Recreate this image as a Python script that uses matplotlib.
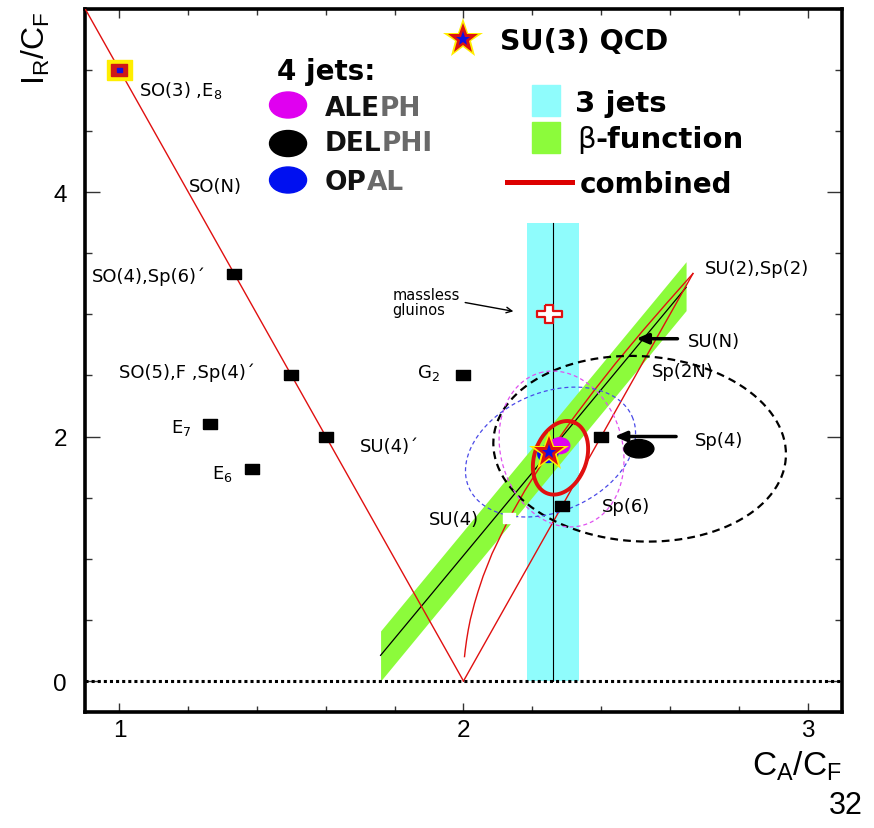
import numpy as np
import matplotlib.pyplot as plt
from matplotlib.patches import Ellipse, Rectangle
from matplotlib.ticker import MultipleLocator

plt.rcParams['font.family'] = 'DejaVu Sans'

# ---- data ----
# SO(N) line and Sp(2N) line
so_line_x = [0.9, 2.0]
so_line_y = [5.5, 0.0]
sp_line_x = [2.0, 2.667]
sp_line_y = [0.0, 3.333]

# SU(N) curve, N = 2 ... 25
su_curve_x = [2.667, 2.587, 2.521, 2.442, 2.381, 2.318, 2.250, 2.178, 2.133,
              2.083, 2.057, 2.042, 2.032, 2.020, 2.014, 2.009, 2.005, 2.003]
su_curve_y = [3.333, 3.079, 2.865, 2.598, 2.381, 2.146, 1.875, 1.556, 1.333,
              1.042, 0.857, 0.729, 0.635, 0.505, 0.420, 0.335, 0.251, 0.200]

# black squares (gauge groups)
group_x = [1.333, 1.5, 1.6, 1.263, 1.385, 2.0, 2.4, 2.286]
group_y = [3.333, 2.5, 2.0, 2.105, 1.731, 2.5, 2.0, 1.429]
so3_x, so3_y = 1.0, 5.0
su4_x, su4_y = 2.133, 1.333
su3_x, su3_y = 2.25, 1.875
gluino_x, gluino_y = 2.25, 3.0

# 3 jets band
jets3_center = 2.26
jets3_range = [2.184, 2.335]
jets3_top = 3.75

# beta-function band
beta_x = [1.759, 2.647]
beta_mid = [0.21, 3.22]
beta_lo = [0.0, 3.03]
beta_hi = [0.41, 3.43]

# 4 jets results: centre, size of blob
aleph_pt = [2.280, 1.925, 0.058, 0.13]
delphi_pt = [2.510, 1.900, 0.087, 0.15]
opal_pt = [2.245, 1.857, 0.058, 0.139]

# contours: centre x, centre y, semi-axes (ux, uy, vx, vy)
aleph_cont = [2.285, 1.898, -0.0637, 0.6225, 0.170, 0.1374]
delphi_cont = [2.512, 1.900, 0.425, -0.073, -0.016, -0.756]
opal_cont = [2.253, 1.873, 0.2375, 0.2888, 0.0686, -0.4458]
combined_cont = [2.282, 1.826, 0.0378, 0.292, 0.0709, -0.0728]

CYAN = '#8ffcfc'
GREEN = '#8cfb3b'
RED = '#e01010'


def contour(p):
    t = np.linspace(0, 2 * np.pi, 240)
    cx, cy, ux, uy, vx, vy = p
    return cx + ux * np.cos(t) + vx * np.sin(t), cy + uy * np.cos(t) + vy * np.sin(t)


rect = [(-1.3, -1), (1.3, -1), (1.3, 1), (-1.3, 1), (-1.3, -1)]
a, s = 0.3, 1.45
cross = [(-a * s, 1), (a * s, 1), (a * s, a), (s, a), (s, -a), (a * s, -a), (a * s, -1),
         (-a * s, -1), (-a * s, -a), (-s, -a), (-s, a), (-a * s, a), (-a * s, 1)]

fig = plt.figure(figsize=(8.74, 8.29), dpi=100)
ax = fig.add_axes([0.0973, 0.1404, 0.866, 0.848])
ax.set_xlim(0.9, 3.1)
ax.set_ylim(-0.25, 5.5)

# bands
ax.fill_between(jets3_range, 0, jets3_top, color=CYAN, lw=0, zorder=1)
ax.fill_between(beta_x, beta_lo, beta_hi, color=GREEN, lw=0, zorder=2)
ax.plot([jets3_center, jets3_center], [0, jets3_top], color='k', lw=0.8, zorder=3)
ax.plot(beta_x, beta_mid, color='k', lw=0.9, zorder=3)

# group lines
ax.plot(so_line_x, so_line_y, color=RED, lw=1.0, zorder=4)
ax.plot(sp_line_x, sp_line_y, color=RED, lw=1.0, zorder=4)
ax.plot(su_curve_x, su_curve_y, color=RED, lw=1.0, zorder=4)

ax.axhline(0, color='k', lw=2.2, ls=(0, (1, 1)), zorder=5)

# contours
ax.plot(*contour(delphi_cont), color='k', lw=1.6, ls=(0, (3.5, 2.3)), zorder=6)
ax.plot(*contour(aleph_cont), color='#e050f0', lw=0.9, ls=(0, (3.2, 2.4)), zorder=6)
ax.plot(*contour(opal_cont), color='#4a4ae8', lw=0.9, ls=(0, (3.2, 2.4)), zorder=6)
ax.plot(*contour(combined_cont), color=RED, lw=2.8, zorder=7)

# measurement blobs
for p, c in [(aleph_pt, '#e000f0'), (opal_pt, '#0010f0'), (delphi_pt, 'k')]:
    ax.add_patch(Ellipse((p[0], p[1]), p[2], p[3], color=c, zorder=8))

# group points
ax.plot(group_x, group_y, ls='none', marker=rect, ms=9.4, color='k', zorder=9)
ax.plot(su4_x, su4_y, ls='none', marker=rect, ms=9, color='white', zorder=9)
ax.plot(so3_x, so3_y, marker=rect, ms=18, color='#ffee00', zorder=9)
ax.plot(so3_x, so3_y, marker=rect, ms=11.5, color='#d01818', zorder=9)
ax.plot(so3_x, so3_y, marker=rect, ms=3.6, color='#1010e0', zorder=9)
ax.plot(gluino_x, gluino_y, marker=cross, ms=18, mfc='white', mec=RED, mew=1.6, zorder=9)
for ms, c in [(30, '#ffee00'), (23, '#dd1111'), (11, '#1010e0')]:
    ax.plot(su3_x, su3_y, marker='*', ms=ms, color=c, mew=0, zorder=10)

# labels
lab = dict(fontsize=13, ha='left', va='baseline', zorder=3)
ax.text(1.058, 4.79, 'SO(3) ,E$\\mathregular{_8}$', **lab)
ax.text(1.203, 4.01, 'SO(N)', **lab)
ax.text(0.919, 3.274, 'SO(4),Sp(6)´', **lab)
ax.text(1.0, 2.49, 'SO(5),F ,Sp(4)´', **lab)
ax.text(1.151, 2.04, 'E$\\mathregular{_7}$', **lab)
ax.text(1.27, 1.663, 'E$\\mathregular{_6}$', **lab)
ax.text(1.698, 1.884, 'SU(4)´', **lab)
ax.text(1.866, 2.489, 'G$\\mathregular{_2}$', **lab)
ax.text(2.701, 3.335, 'SU(2),Sp(2)', **lab)
ax.text(2.651, 2.742, 'SU(N)', **lab)
ax.text(2.549, 2.493, 'Sp(2N)', **lab)
ax.text(2.672, 1.929, 'Sp(4)', **lab)
ax.text(2.401, 1.389, 'Sp(6)', **lab)
ax.text(1.898, 1.282, 'SU(4)', **lab)
ax.text(1.794, 3.10, 'massless\ngluinos', fontsize=10.5, ha='left', va='center',
        linespacing=1.0)

ax.annotate('', xy=(2.153, 3.02), xytext=(1.997, 3.10),
            arrowprops=dict(arrowstyle='->', color='k', lw=1.0))
for y0, x0, x1 in [(2.80, 2.622, 2.502), (2.0, 2.618, 2.439)]:
    ax.annotate('', xy=(x1, y0), xytext=(x0, y0), zorder=9,
                arrowprops=dict(arrowstyle='-|>,head_length=0.7,head_width=0.3',
                                color='k', lw=2.5, shrinkA=0, shrinkB=0))

# legend block (axes fraction)
T = ax.transAxes
bold = dict(fontweight='bold', transform=T, ha='left', va='center')
for ms, c in [(30, '#ffee00'), (23, '#dd1111'), (11, '#1010e0')]:
    ax.plot(0.4997, 0.9568, marker='*', ms=ms, color=c, mew=0, transform=T, clip_on=False)
ax.text(0.548, 0.954, 'SU(3) QCD', fontsize=20.5, **bold)
ax.text(0.2536, 0.9112, '4 jets:', fontsize=20, **bold)

for y, c in [(0.8629, '#e000f0'), (0.8081, 'k'), (0.7562, '#0010f0')]:
    ax.add_patch(Ellipse((0.2682, y), 0.0489, 0.037, color=c, transform=T))
for y, s1, s2 in [(0.8586, 'ALE', 'PH'), (0.8088, 'DEL', 'PHI'), (0.7533, 'OP', 'AL')]:
    t1 = ax.text(0.317, y, s1, fontsize=19, color='#111111', **bold)
    ax.annotate(s2, xy=(1, 0), xycoords=t1, ha='left', va='bottom', fontsize=19,
                fontweight='bold', color='#6a6a6a')

ax.add_patch(Rectangle((0.590, 0.8477), 0.0374, 0.0436, color=CYAN, transform=T))
ax.add_patch(Rectangle((0.590, 0.7946), 0.0374, 0.0445, color=GREEN, transform=T))
ax.plot([0.557, 0.643], [0.7538, 0.7538], color='#dd0000', lw=3.6, transform=T)
ax.text(0.6473, 0.8658, '3 jets', fontsize=21, **bold)
tb = ax.text(0.650, 0.8145, 'β', fontsize=21, transform=T, ha='left', va='center')
ax.annotate('-function', xy=(1, 0), xycoords=tb, ha='left', va='bottom', fontsize=21,
            fontweight='bold')
ax.text(0.654, 0.7505, 'combined', fontsize=20, **bold)

# axes style
ax.set_xticks([1, 2, 3])
ax.set_yticks([0, 2, 4])
ax.xaxis.set_minor_locator(MultipleLocator(0.2))
ax.yaxis.set_minor_locator(MultipleLocator(0.5))
ax.tick_params(which='both', direction='in', top=True, right=True, width=1,
               color='#333333', labelsize=17.5, labelfontfamily='Liberation Sans')
ax.tick_params(axis='x', which='major', length=6.5, pad=5)
ax.tick_params(axis='x', which='minor', length=4.3)
ax.tick_params(axis='y', which='major', length=10.8, pad=13)
ax.tick_params(axis='y', which='minor', length=5)
for sp in ax.spines.values():
    sp.set_linewidth(2.6)

ax.text(1.0, -0.089, r'$\mathregular{C_A/C_F}$', transform=T, ha='right', va='baseline',
        fontsize=24, family='Liberation Sans')
fig.text(0.0412, 0.9855, r'$\mathregular{I_R/C_F}$', rotation=90, ha='center', va='top',
         fontsize=23, family='Liberation Sans')
fig.text(0.9874, 0.0277, '32', ha='right', va='center', fontsize=22, family='Liberation Sans')

fig.savefig('out.png', dpi=100)
